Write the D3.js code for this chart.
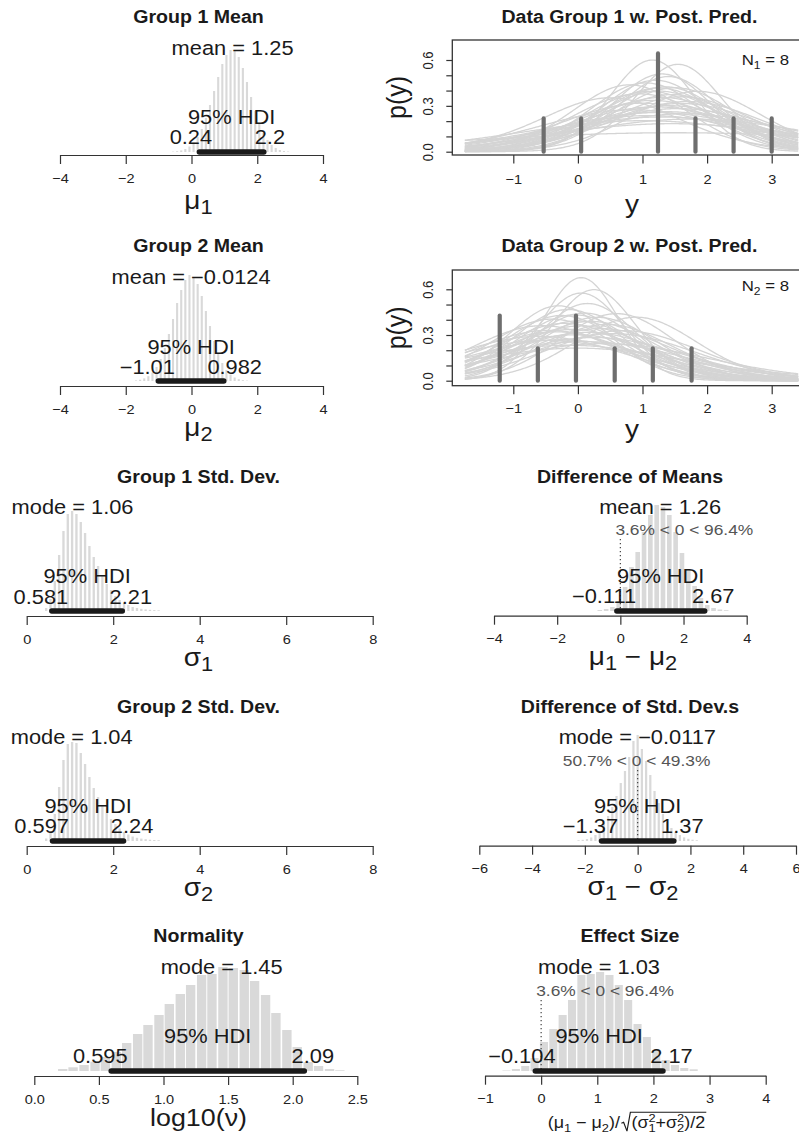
<!DOCTYPE html>
<html><head><meta charset="utf-8">
<script src="https://cdn.jsdelivr.net/npm/d3@7"></script>
<style>body{margin:0;background:#fff}svg{display:block}</style>
</head><body>
<svg id="c" width="799" height="1135"></svg>
<script>
// ================= DATA =================
// Group 1 mean posterior histogram
const mu1Centers = [-0.5625,-0.4375,-0.3125,-0.1875,-0.0625,0.0625,0.1875,0.3125,0.4375,0.5625,0.6875,0.8125,0.9375,1.0625,1.1875,1.3125,1.4375,1.5625,1.6875,1.8125,1.9375,2.0625,2.1875,2.3125,2.4375,2.5625,2.6875,2.8125,2.9375];
const mu1Heights = [0.4,0.8,1.6,3,5.5,9.5,15,23,34,47,61,75,88,97,102,101,95,84,70,55,41,29,19,12,7,4,2,1,0.5];
const mu1BinWidth = 0.125;
const mu1Center = 1.25, mu1HDI = [0.24, 2.2];
// Group 2 mean
const mu2Centers = [-1.6875,-1.5625,-1.4375,-1.3125,-1.1875,-1.0625,-0.9375,-0.8125,-0.6875,-0.5625,-0.4375,-0.3125,-0.1875,-0.0625,0.0625,0.1875,0.3125,0.4375,0.5625,0.6875,0.8125,0.9375,1.0625,1.1875,1.3125,1.4375,1.5625,1.6875];
const mu2Heights = [0.6,1.3,2.6,4.8,8.5,14,22,33,47,62,78,91,101,106,104,97,85,70,55,40,28,18,11,6.5,3.5,1.8,0.9,0.4];
const mu2BinWidth = 0.125;
const mu2Center = -0.0124, mu2HDI = [-1.01, 0.982];
// Group 1 std dev
const sd1Centers = [0.45,0.55,0.65,0.75,0.85,0.95,1.05,1.15,1.25,1.35,1.45,1.55,1.65,1.75,1.85,1.95,2.05,2.15,2.25,2.35,2.45,2.55,2.65,2.75,2.85,2.95,3.05];
const sd1Heights = [3,12,30,56,80,97,100,97,89,78,65,54,45,35,27,21,15,11,8,6,4,3,2.2,1.6,1.2,0.9,0.7];
const sd1BinWidth = 0.1;
const sd1Center = 1.06, sd1HDI = [0.581, 2.21];
// Group 2 std dev
const sd2Centers = [0.45,0.55,0.65,0.75,0.85,0.95,1.05,1.15,1.25,1.35,1.45,1.55,1.65,1.75,1.85,1.95,2.05,2.15,2.25,2.35,2.45,2.55,2.65,2.75,2.85,2.95,3.05];
const sd2Heights = [2.5,10,27,54,81,97,99,98,88,77,64,53,44,36,28,22,17,12.5,9,6.5,4.5,3.2,2.4,1.8,1.3,1.0,0.8];
const sd2BinWidth = 0.1;
const sd2Center = 1.04, sd2HDI = [0.597, 2.24];
// Normality log10(nu)
const nuCenters = [0.22,0.30,0.385,0.47,0.55,0.635,0.715,0.80,0.88,0.965,1.045,1.13,1.21,1.295,1.375,1.46,1.54,1.625,1.705,1.79,1.87,1.955,2.035,2.12,2.20,2.285,2.365];
const nuHeights = [2,3.7,6,9.3,14,19,28,37,46,56,67,77,86,96,97,104,103,101,90,76,58,41,24,9,5,2,0.7];
const nuBinWidth = 0.0826;
const nuCenter = 1.45, nuHDI = [0.595, 2.09];
// Difference of means
const dmCenters = [-0.65,-0.45,-0.25,-0.05,0.15,0.35,0.55,0.75,0.95,1.15,1.35,1.55,1.75,1.95,2.15,2.35,2.55,2.75,2.95,3.15,3.35];
const dmHeights = [1,2,4,10,24,44,59,79,96,106,104,96,79,58,41,25,13,6,3,1.5,0.8];
const dmBinWidth = 0.2;
const dmCenter = 1.26, dmHDI = [-0.111, 2.67], dmPct = [3.6, 96.4];
// Difference of std devs
const dsCenters = [-2.24,-2.08,-1.92,-1.76,-1.60,-1.44,-1.28,-1.12,-0.96,-0.80,-0.64,-0.48,-0.32,-0.16,0,0.16,0.32,0.48,0.64,0.80,0.96,1.12,1.28,1.44,1.60,1.76,1.92,2.08,2.24];
const dsHeights = [0.8,1.2,2,3.5,6,10,18,25,34,45,58,70,84,100,106,92,80,66,50,38,27,19,13,9,6,3.6,2.2,1.3,0.8];
const dsBinWidth = 0.16;
const dsCenter = -0.0117, dsHDI = [-1.37, 1.37], dsPct = [50.7, 49.3];
// Effect size
const esCenters = [-0.617,-0.45,-0.283,-0.117,0.05,0.217,0.383,0.55,0.717,0.883,1.05,1.217,1.383,1.55,1.717,1.883,2.05,2.217,2.383,2.55,2.717];
const esHeights = [0.5,2,5,13,29,42,56,71,96,97,99,96,86,71,47,34,21,11,6,3,1.7];
const esBinWidth = 0.167;
const esCenter = 1.03, esHDI = [-0.104, 2.17], esPct = [3.6, 96.4];

// Data + posterior predictive
const data1X = [-0.53, 0.05, 1.24, 1.82, 2.41, 3.0];
const data1P = [0.218, 0.218, 0.643, 0.218, 0.218, 0.218];
const data2X = [-1.21, -0.62, -0.03, 0.57, 1.16, 1.76];
const data2P = [0.428, 0.213, 0.428, 0.213, 0.213, 0.213];
const n1 = 8, n2 = 8;
const curve1Mu = [1.15,1.55,1.30,1.40,1.20,1.05,1.35,1.50,1.10,1.25,1.45,0.95,1.60,0.50,1.30,1.15,1.70,1.00,1.40,1.20,1.55,0.85,1.35,1.65,1.10,1.30,1.75,1.00,1.45,1.50,1.25,0.80,1.85,1.20,1.60];
const curve1Sd = [0.66,0.69,0.78,0.80,0.85,0.88,0.92,0.95,1.00,1.00,1.05,1.05,1.10,1.10,1.12,1.18,1.20,1.25,1.30,1.35,1.40,1.45,1.50,1.60,1.65,1.75,1.85,1.95,2.10,3.20,0.95,0.90,1.00,1.55,1.25];
const curve2Mu = [0.05,0.25,0.05,-0.30,-0.15,0.90,0.10,-0.05,0.30,-0.40,0.00,0.20,-0.20,0.45,-0.55,0.05,0.35,-0.10,-0.35,0.15,0.55,-0.05,-0.60,0.25,-0.25,0.10,0.40,-0.15,0.00,-0.45,0.60,-0.25,0.15,-0.50,0.70];
const curve2Sd = [0.585,0.66,0.69,0.80,0.85,0.95,0.88,0.92,0.95,0.98,1.00,1.02,1.05,1.05,1.10,1.10,1.15,1.18,1.22,1.25,1.28,1.32,1.35,1.40,1.45,1.55,1.62,1.70,1.80,1.20,0.90,0.92,0.78,1.50,1.20];
const curveNu = [30,22,45,18,60,35,12,80,25,40,15,55,28,9,70,33,20,48,14,38,26,90,17,42,11,65,24,31,7,50,36,19,27,44,21];
const yTicks = [-1,0,1,2,3];
const pTicks = [0,0.1,0.2,0.3,0.4,0.5,0.6];
const pTickLabels = ["0.0","","","0.3","","","0.6"];

// ================= DRAWING =================
const SX = 1.12;
const FONT = "'Liberation Sans', Arial, Helvetica, sans-serif";
const INK = "#1a1a1a";
const svg = d3.select("#c");
svg.append("rect").attr("width",799).attr("height",1135).attr("fill","#fff");

const fmtNum = v => String(v).replace("-", "\u2212");

function txt(x, y, s, o = {}) {
  const g = svg.append("g").attr("transform", `translate(${x},${y}) scale(${SX},1)` + (o.rot ? ` rotate(${o.rot})` : ""));
  const el = g.append("text").attr("font-family", FONT).attr("font-size", o.size || 19.5)
    .attr("font-weight", o.bold ? "bold" : "normal").attr("fill", o.color || INK)
    .attr("text-anchor", o.anchor || "middle").text(s);
  if (o.adj !== undefined) {
    el.attr("text-anchor", "start");
    const w = el.node().getComputedTextLength();
    el.attr("x", -o.adj * w);
  }
  return el;
}

function rich(x, y, parts, size, o = {}) {
  const g = svg.append("g").attr("transform", `translate(${x},${y}) scale(${SX},1)` + (o.rot ? ` rotate(${o.rot})` : ""));
  const t = g.append("text").attr("font-family", FONT).attr("font-size", size).attr("fill", INK)
    .attr("text-anchor", o.anchor || "middle");
  const subR = o.subRatio || 0.78, subS = o.subShift || 0.2;
  let shift = 0;
  parts.forEach(p => {
    let target = 0, fs = size;
    if (p[1] === "sub") { target = subS * size; fs = size * subR; }
    t.append("tspan").attr("font-size", fs).attr("dy", target - shift).text(p[0]);
    shift = target;
  });
  return t;
}

function histPanel(c) {
  const x = d3.scaleLinear().domain(c.dom).range(c.rng);
  const y = d3.scaleLinear().domain([0, 100]).range([c.base, c.base - 100]);
  const g = svg.append("g");
  const bw = x(c.w) - x(0);
  g.selectAll("rect").data(c.centers).join("rect")
    .attr("x", d => x(d) - bw / 2 + c.gap / 2)
    .attr("width", Math.max(0.6, bw - c.gap))
    .attr("y", (d, i) => y(c.heights[i]))
    .attr("height", (d, i) => c.base - y(c.heights[i]))
    .attr("fill", "#d9d9d9");
  if (c.pct) {
    g.append("line").attr("x1", x(0)).attr("x2", x(0)).attr("y1", c.cmpY + 4).attr("y2", c.base)
      .attr("stroke", "#444").attr("stroke-width", 1.2).attr("stroke-dasharray", "1.3,2.7");
    txt(x(0), c.cmpY, `${c.pct[0]}% < 0 < ${c.pct[1]}%`, { size: 15.5, color: "#555", adj: c.pct[0] / 100 });
  }
  g.append("line").attr("x1", x(c.hdi[0])).attr("x2", x(c.hdi[1])).attr("y1", c.base).attr("y2", c.base)
    .attr("stroke", INK).attr("stroke-width", 5.5).attr("stroke-linecap", "round");
  const axis = d3.axisBottom(x).tickValues(c.ticks).tickSizeInner(9).tickSizeOuter(0).tickFormat(d3.format(c.fmt));
  const ag = svg.append("g").attr("transform", `translate(0,${c.axisY})`).call(axis)
    .attr("font-family", FONT).attr("font-size", 13);
  ag.select(".domain").attr("stroke", "#333").attr("stroke-width", 1.2);
  ag.selectAll(".tick line").attr("stroke", "#333").attr("stroke-width", 1.2);
  ag.selectAll(".tick text").attr("y", 0).attr("dy", 0).attr("fill", "#222")
    .attr("transform", `translate(0,27.5) scale(${SX},1)`);
  txt(c.titleX, c.titleY, c.title, { size: 17.5, bold: true });
  txt(x(c.cen[1]), c.cenY, `${c.cen[0]} = ${fmtNum(c.cen[1])}`, { size: 19.5 });
  txt(x((c.hdi[0] + c.hdi[1]) / 2), c.hdiTY, "95% HDI", { size: 19.5 });
  txt(x(c.hdi[0]), c.hdiLY, fmtNum(c.hdi[0]), { size: 19.5, adj: 0.7 });
  txt(x(c.hdi[1]), c.hdiLY, fmtNum(c.hdi[1]), { size: 19.5, adj: 0.3 });
  if (c.xlab) rich(c.xlabX, c.xlabY, c.xlab, c.xlabSize || 25);
  return x;
}

const LX = 198.5, RX = 630;
histPanel({ title: "Group 1 Mean", centers: mu1Centers, heights: mu1Heights, w: mu1BinWidth, gap: 2,
  cen: ["mean", mu1Center], hdi: mu1HDI, dom: [-4, 4], rng: [60, 323], ticks: [-4, -2, 0, 2, 4], fmt: "d",
  base: 152, axisY: 155, titleX: LX, titleY: 23, cenY: 55, hdiTY: 124, hdiLY: 144,
  xlab: [["μ"], ["1", "sub"]], xlabX: LX, xlabY: 209 });
histPanel({ title: "Group 2 Mean", centers: mu2Centers, heights: mu2Heights, w: mu2BinWidth, gap: 2,
  cen: ["mean", mu2Center], hdi: mu2HDI, dom: [-4, 4], rng: [60, 323], ticks: [-4, -2, 0, 2, 4], fmt: "d",
  base: 381, axisY: 386, titleX: LX, titleY: 252, cenY: 284, hdiTY: 354, hdiLY: 374,
  xlab: [["μ"], ["2", "sub"]], xlabX: LX, xlabY: 436 });
histPanel({ title: "Group 1 Std. Dev.", centers: sd1Centers, heights: sd1Heights, w: sd1BinWidth, gap: 2,
  cen: ["mode", sd1Center], hdi: sd1HDI, dom: [0, 8], rng: [26.7, 372.7], ticks: [0, 2, 4, 6, 8], fmt: "d",
  base: 611, axisY: 616, titleX: LX, titleY: 483, cenY: 514, hdiTY: 583, hdiLY: 604,
  xlab: [["σ"], ["1", "sub"]], xlabX: LX, xlabY: 666 });
histPanel({ title: "Group 2 Std. Dev.", centers: sd2Centers, heights: sd2Heights, w: sd2BinWidth, gap: 2,
  cen: ["mode", sd2Center], hdi: sd2HDI, dom: [0, 8], rng: [26.7, 372.7], ticks: [0, 2, 4, 6, 8], fmt: "d",
  base: 841, axisY: 846, titleX: LX, titleY: 713, cenY: 744, hdiTY: 813, hdiLY: 833,
  xlab: [["σ"], ["2", "sub"]], xlabX: LX, xlabY: 896 });
histPanel({ title: "Normality", centers: nuCenters, heights: nuHeights, w: nuBinWidth, gap: 1.3,
  cen: ["mode", nuCenter], hdi: nuHDI, dom: [0, 2.5], rng: [34.3, 357.3], ticks: [0, 0.5, 1, 1.5, 2, 2.5], fmt: ".1f",
  base: 1071, axisY: 1076, titleX: LX, titleY: 942, cenY: 974, hdiTY: 1043, hdiLY: 1063,
  xlab: [["log10(ν)"]], xlabX: LX, xlabY: 1126, xlabSize: 24 });
histPanel({ title: "Difference of Means", centers: dmCenters, heights: dmHeights, w: dmBinWidth, gap: 1.7,
  cen: ["mean", dmCenter], hdi: dmHDI, pct: dmPct, dom: [-4, 4], rng: [494, 746.7], ticks: [-4, -2, 0, 2, 4], fmt: "d",
  base: 611, axisY: 615.7, titleX: RX, titleY: 483, cenY: 514, cmpY: 535, hdiTY: 583, hdiLY: 603,
  xlab: [["μ"], ["1", "sub"], [" − μ"], ["2", "sub"]], xlabX: 633, xlabY: 665 });
histPanel({ title: "Difference of Std. Dev.s", centers: dsCenters, heights: dsHeights, w: dsBinWidth, gap: 2,
  cen: ["mode", dsCenter], hdi: dsHDI, pct: dsPct, dom: [-6, 6], rng: [479.3, 796], ticks: [-6, -4, -2, 0, 2, 4, 6], fmt: "d",
  base: 841, axisY: 845.7, titleX: RX, titleY: 713, cenY: 744, cmpY: 766, hdiTY: 813, hdiLY: 833,
  xlab: [["σ"], ["1", "sub"], [" − σ"], ["2", "sub"]], xlabX: 633, xlabY: 895 });
histPanel({ title: "Effect Size", centers: esCenters, heights: esHeights, w: esBinWidth, gap: 1.3,
  cen: ["mode", esCenter], hdi: esHDI, pct: esPct, dom: [-1, 4], rng: [485, 765.7], ticks: [-1, 0, 1, 2, 3, 4], fmt: "d",
  base: 1071, axisY: 1075.7, titleX: RX, titleY: 942, cenY: 974, cmpY: 996, hdiTY: 1043, hdiLY: 1063 });

// effect size x label: (mu1 - mu2)/sqrt((s1^2+s2^2)/2)
(function () {
  const f = 16, fs = 11.5;
  const outer = svg.append("g").attr("transform", `translate(627,1128) scale(${SX},1)`);
  const inner = outer.append("g");
  const L = inner.append("text").attr("font-family", FONT).attr("font-size", f).attr("fill", INK);
  L.append("tspan").text("(μ");
  L.append("tspan").attr("font-size", fs).attr("dy", 3.5).text("1");
  L.append("tspan").attr("dy", -3.5).text(" − μ");
  L.append("tspan").attr("font-size", fs).attr("dy", 3.5).text("2");
  L.append("tspan").attr("dy", -3.5).text(")/");
  const lb = L.node().getBBox();
  const rx0 = lb.x + lb.width + 1;
  const rStart = rx0 + 9;
  const R = inner.append("text").attr("font-family", FONT).attr("font-size", f).attr("fill", INK).attr("x", rStart);
  const sw = 0.556 * fs;
  R.append("tspan").text("(σ");
  R.append("tspan").attr("font-size", fs).attr("dy", -6).text("2");
  R.append("tspan").attr("font-size", fs).attr("dx", -sw).attr("dy", 9.5).text("1");
  R.append("tspan").attr("dy", -3.5).text("+σ");
  R.append("tspan").attr("font-size", fs).attr("dy", -6).text("2");
  R.append("tspan").attr("font-size", fs).attr("dx", -sw).attr("dy", 9.5).text("2");
  R.append("tspan").attr("dy", -3.5).text(")/2");
  const rb = R.node().getBBox();
  const rEnd = rb.x + rb.width + 1;
  const top = -f * 0.98;
  inner.append("path").attr("fill", "none").attr("stroke", INK).attr("stroke-width", 1)
    .attr("d", `M${rx0},${-f * 0.3} L${rx0 + 2},${-f * 0.36} L${rx0 + 5},${f * 0.2} L${rx0 + 8},${top} L${rEnd},${top}`);
  const total = rEnd - lb.x;
  inner.attr("transform", `translate(${-(lb.x + total / 2)},0)`);
})();

// ---- Data panels with posterior predictive curves ----
function lgamma(z) {
  const c = [0.99999999999980993, 676.5203681218851, -1259.1392167224028, 771.32342877765313,
    -176.61502916214059, 12.507343278686905, -0.13857109526572012, 9.9843695780195716e-6, 1.5056327351493116e-7];
  if (z < 0.5) return Math.log(Math.PI / Math.sin(Math.PI * z)) - lgamma(1 - z);
  z -= 1; let a = c[0];
  for (let i = 1; i < 9; i++) a += c[i] / (z + i);
  const t = z + 7.5;
  return 0.5 * Math.log(2 * Math.PI) + (z + 0.5) * Math.log(t) - t + Math.log(a);
}
function dt(v, mu, s, nu) {
  const z = (v - mu) / s;
  return Math.exp(lgamma((nu + 1) / 2) - lgamma(nu / 2)) / (Math.sqrt(nu * Math.PI) * s) * Math.pow(1 + z * z / nu, -(nu + 1) / 2);
}

function dataPanel(c) {
  const x = d3.scaleLinear().domain([-1, 3]).range([513.3, 771.7]);
  const y = d3.scaleLinear().domain([0, 0.6]).range([c.y0, c.y6]);
  const g = svg.append("g");
  const grid = d3.range(-1.75, 3.43, 0.02);
  const line = d3.line().x(d => x(d[0])).y(d => y(d[1]));
  c.mu.forEach((m, i) => {
    g.append("path").attr("fill", "none").attr("stroke", "#d4d4d4").attr("stroke-width", 1.3)
      .attr("d", line(grid.map(v => [v, dt(v, m, c.sd[i], curveNu[i])])));
  });
  g.selectAll("line.dat").data(c.dx).join("line").attr("class", "dat")
    .attr("x1", d => x(d)).attr("x2", d => x(d))
    .attr("y1", y(0)).attr("y2", (d, i) => y(c.dp[i]))
    .attr("stroke", "#6e6e6e").attr("stroke-width", 4.2).attr("stroke-linecap", "round");
  g.append("rect").attr("x", 452.3).attr("y", c.top).attr("width", 400).attr("height", c.bot - c.top)
    .attr("fill", "none").attr("stroke", "#333").attr("stroke-width", 1.3);
  const ax = svg.append("g").attr("transform", `translate(0,${c.bot})`)
    .call(d3.axisBottom(x).tickValues(yTicks).tickSizeInner(8.5).tickSizeOuter(0).tickFormat(d3.format("d")))
    .attr("font-family", FONT).attr("font-size", 13);
  ax.select(".domain").remove();
  ax.selectAll(".tick line").attr("stroke", "#333").attr("stroke-width", 1.2);
  ax.selectAll(".tick text").attr("y", 0).attr("dy", 0).attr("fill", "#222")
    .attr("transform", `translate(0,${c.tickLabY - c.bot}) scale(${SX},1)`);
  const ay = svg.append("g").attr("transform", `translate(452.3,0)`)
    .call(d3.axisLeft(y).tickValues(pTicks).tickSizeInner(6).tickSizeOuter(0).tickFormat((d, i) => pTickLabels[i]))
    .attr("font-family", FONT).attr("font-size", 13);
  ay.select(".domain").remove();
  ay.selectAll(".tick line").attr("stroke", "#333").attr("stroke-width", 1.2);
  ay.selectAll(".tick text").attr("x", 0).attr("dy", 0).attr("fill", "#222").attr("text-anchor", "middle")
    .attr("transform", `translate(-19,0) scale(${SX},1) rotate(-90)`);
  txt(629.5, c.titleY, c.title, { size: 17.5, bold: true });
  txt(632, c.ylabY, "y", { size: 25 });
  txt(405.5, (c.top + c.bot) / 2, "p(y)", { size: 25, rot: -90 });
  rich(789, c.nY, [["N"], [c.sub, "sub"], [" = " + c.n]], 15, { anchor: "end", subRatio: 0.72, subShift: 0.25 });
}
dataPanel({ title: "Data Group 1 w. Post. Pred.", mu: curve1Mu, sd: curve1Sd, dx: data1X, dp: data1P,
  y0: 151.7, y6: 60, top: 40, bot: 155, tickLabY: 183.5, titleY: 23, ylabY: 212.5, nY: 65, sub: "1", n: n1 });
dataPanel({ title: "Data Group 2 w. Post. Pred.", mu: curve2Mu, sd: curve2Sd, dx: data2X, dp: data2P,
  y0: 380.7, y6: 289.3, top: 270, bot: 385.7, tickLabY: 413, titleY: 252, ylabY: 437.5, nY: 291, sub: "2", n: n2 });
</script>
</body></html>
